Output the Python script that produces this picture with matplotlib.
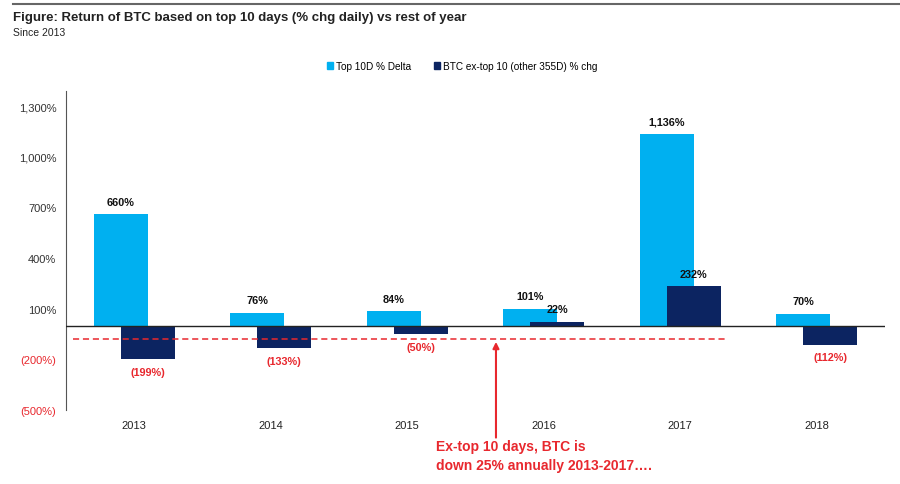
import matplotlib.pyplot as plt
from matplotlib.lines import Line2D
import numpy as np

# Datos
years = ['2013', '2014', '2015', '2016', '2017', '2018']
top10 = [660, 76, 84, 101, 1136, 70]
ex_top10 = [-199, -133, -50, 22, 232, -112]
yticks = [-500, -200, 100, 400, 700, 1000, 1300]
avg_line = -80

light = '#00B0F0'
navy = '#0C2461'
red = '#E8282E'

plt.rcParams['font.family'] = ['Liberation Sans', 'DejaVu Sans']

def fmt(v):
    if v < 0:
        return '({:,}%)'.format(-v)
    return '{:,}%'.format(v)

fig = plt.figure(figsize=(9, 4.85), dpi=100)
ax = fig.add_axes([66 / 900, 74 / 485, (885 - 66) / 900, (411 - 92) / 485])

x = np.arange(len(years))
w = 0.394
off = 0.197
ax.bar(x - off / 2, top10, w, color=light, zorder=2)
ax.bar(x + off / 2, ex_top10, w, color=navy, zorder=3)

# etiquetas de valores
for i in range(len(years)):
    for xv, v in ((x[i] - off / 2, top10[i]), (x[i] + off / 2, ex_top10[i])):
        if v >= 0:
            ax.text(xv, v + 45, fmt(v), ha='center', va='bottom', fontsize=7.8,
                    fontweight='bold', color='#111111', zorder=5)
        else:
            ax.text(xv, v - 45, fmt(v), ha='center', va='top', fontsize=7.8,
                    fontweight='bold', color=red, zorder=5)

ax.axhline(0, color='#222222', lw=1, zorder=4)
ax.plot([-0.45, 4.34], [avg_line, avg_line], color=red, lw=1.1,
        ls=(0, (4, 2.5)), zorder=4)

ax.set_xlim(-0.5, 5.5)
ax.set_ylim(-500, 1390)
ax.set_yticks(yticks)
ax.set_yticklabels([fmt(t) for t in yticks], fontsize=8)
for lab, t in zip(ax.get_yticklabels(), yticks):
    lab.set_color(red if t < 0 else '#333333')
ax.set_xticks(x)
ax.set_xticklabels(years, fontsize=8, color='#222222')
ax.tick_params(axis='y', length=0, pad=7)
ax.tick_params(axis='x', length=0, pad=7)
for s in ['top', 'right', 'bottom']:
    ax.spines[s].set_visible(False)
ax.spines['left'].set_color('#555555')

# flecha y anotacion
ax.annotate('', xy=(2.65, avg_line), xytext=(2.65, -680),
            arrowprops=dict(arrowstyle='-|>', color=red, lw=1.5,
                            mutation_scale=9), annotation_clip=False)
fig.text(436 / 900, 1 - 447 / 485, 'Ex-top 10 days, BTC is', color=red,
         fontsize=10, fontweight='bold', va='center', ha='left')
fig.text(436 / 900, 1 - 466 / 485, 'down 25% annually 2013-2017\u2026.', color=red,
         fontsize=10, fontweight='bold', va='center', ha='left')

# titulo
fig.add_artist(Line2D([13 / 900, 1.0], [1 - 5 / 485, 1 - 5 / 485], color='#666666', lw=1.5))
fig.text(13 / 900, 1 - 18 / 485, 'Figure: Return of BTC based on top 10 days (% chg daily) vs rest of year',
         fontsize=9.5, fontweight='bold', color='#222222', va='center')
fig.text(13 / 900, 1 - 33 / 485, 'Since 2013', fontsize=7.5, color='#222222', va='center')

# leyenda
handles = [plt.Rectangle((0, 0), 1, 1, color=light), plt.Rectangle((0, 0), 1, 1, color=navy)]
fig.legend(handles, ['Top 10D % Delta', 'BTC ex-top 10 (other 355D) % chg'],
           loc='center', bbox_to_anchor=(462 / 900, 1 - 67 / 485), ncol=2, frameon=False,
           fontsize=7.2, handlelength=0.6, handleheight=0.6, handletextpad=0.3,
           columnspacing=2.3)

fig.savefig('out.png', dpi=100)
